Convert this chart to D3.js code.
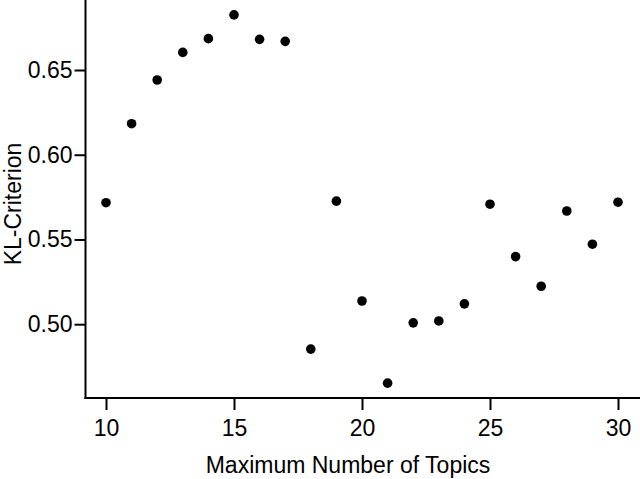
<!DOCTYPE html>
<html>
<head>
<meta charset="utf-8">
<script src="https://cdn.jsdelivr.net/npm/d3@7"></script>
<style>
  html, body { margin: 0; padding: 0; background: #fff; }
  svg { display: block; }
  text { font-family: "Liberation Sans", Arial, sans-serif; fill: #000; }
</style>
</head>
<body>
<svg id="chart" width="640" height="479"></svg>
<script>
const topics = [10, 11, 12, 13, 14, 15, 16, 17, 18, 19, 20, 21, 22, 23, 24, 25, 26, 27, 28, 29, 30];
const klCriterion = [0.5717, 0.6183, 0.6441, 0.6604, 0.6685, 0.6825, 0.6681, 0.6669, 0.4853, 0.5726,
                     0.5137, 0.4652, 0.5008, 0.5019, 0.5120, 0.5708, 0.5399, 0.5224, 0.5668, 0.5472, 0.5720];
const xTicks = [10, 15, 20, 25, 30];
const yTicks = [0.50, 0.55, 0.60, 0.65];
const xTitle = "Maximum Number of Topics";
const yTitle = "KL-Criterion";

const svg = d3.select("#chart");
const axisX = 85.5, axisY = 398;

const x = d3.scaleLinear().domain([10, 30]).range([106, 618]);
const y = d3.scaleLinear().domain([0.50, 0.65]).range([324.2, 70]);

// x axis
const gx = svg.append("g").attr("transform", `translate(0,${axisY})`)
  .call(d3.axisBottom(x).tickValues(xTicks).tickFormat(d3.format("d")).tickSize(12).tickPadding(10).tickSizeOuter(0));
gx.select(".domain").remove();
gx.append("line").attr("x1", axisX - 1).attr("x2", 640).attr("y1", 0).attr("y2", 0)
  .attr("stroke", "#000").attr("stroke-width", 2);
gx.selectAll(".tick line").attr("stroke", "#000").attr("stroke-width", 2);
gx.selectAll(".tick text").style("font-size", "23px").style("font-family", "Liberation Sans, Arial, sans-serif").attr("fill", "#000");

// y axis
const gy = svg.append("g").attr("transform", `translate(${axisX},0)`)
  .call(d3.axisLeft(y).tickValues(yTicks).tickFormat(d3.format(".2f")).tickSize(11).tickPadding(2).tickSizeOuter(0));
gy.select(".domain").remove();
gy.append("line").attr("x1", 0).attr("x2", 0).attr("y1", 0).attr("y2", axisY + 1)
  .attr("stroke", "#000").attr("stroke-width", 2);
gy.selectAll(".tick line").attr("stroke", "#000").attr("stroke-width", 2);
gy.selectAll(".tick text").style("font-size", "23px").style("font-family", "Liberation Sans, Arial, sans-serif").attr("fill", "#000");

// points
svg.append("g").selectAll("circle").data(topics).join("circle")
  .attr("cx", d => x(d))
  .attr("cy", (d, i) => y(klCriterion[i]))
  .attr("r", 4.8)
  .attr("fill", "#000");

// titles
svg.append("text").attr("x", 348).attr("y", 473).attr("text-anchor", "middle")
  .style("font-size", "23px").text(xTitle);
svg.append("text").attr("transform", "translate(21,204) rotate(-90)").attr("text-anchor", "middle")
  .style("font-size", "23px").text(yTitle);
</script>
</body>
</html>
